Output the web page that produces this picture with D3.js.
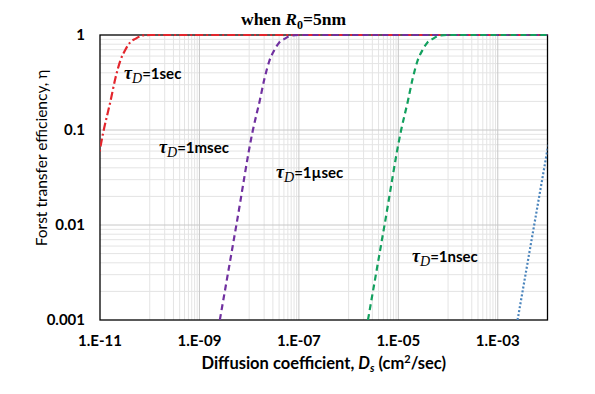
<!DOCTYPE html>
<html>
<head>
<meta charset="utf-8">
<script src="https://cdn.jsdelivr.net/npm/d3@7"></script>
<style>
  body { margin: 0; background: #fff; }
  svg { display: block; }
</style>
</head>
<body>
<script>
// chart values
var xTicks = [1e-11, 1e-9, 1e-7, 1e-5, 1e-3];
var xTickLabels = ['1.E-11', '1.E-09', '1.E-07', '1.E-05', '1.E-03'];
var yTicks = [0.001, 0.01, 0.1, 1];
var yTickLabels = ['0.001', '0.01', '0.1', '1'];

var labels1s = '1sec', labels1ms = '1msec', labels1us = '1\u00b5sec', labels1ns = '1nsec';

var dSec = [2.57e-12, 5.53e-12, 1.19e-11, 1.62e-11, 2.04e-11, 2.57e-11, 3.24e-11, 4.07e-11, 5.13e-11, 7.24e-11, 1.02e-10, 1e-2];
var etaSec = [0.001, 0.01, 0.1, 0.2, 0.35, 0.54, 0.70, 0.84, 0.91, 0.99, 1, 1];

var dMsec = [2.57e-9, 5.53e-9, 1.19e-8, 1.62e-8, 2.04e-8, 2.57e-8, 3.24e-8, 4.07e-8, 5.13e-8, 7.24e-8, 1.02e-7, 1e-2];
var etaMsec = [0.001, 0.01, 0.1, 0.2, 0.35, 0.54, 0.70, 0.84, 0.91, 0.99, 1, 1];

var dUsec = [2.45e-6, 5.28e-6, 1.14e-5, 1.55e-5, 1.95e-5, 2.45e-5, 3.09e-5, 3.89e-5, 4.9e-5, 6.9e-5, 9.7e-5, 1e-2];
var etaUsec = [0.001, 0.01, 0.1, 0.2, 0.35, 0.54, 0.70, 0.84, 0.91, 0.99, 1, 1];

var dNsec = [2.5e-3, 5.4e-3, 1.17e-2];
var etaNsec = [0.001, 0.01, 0.1];

var width = 595, height = 394;
var pLeft = 100, pRight = 547.5, pTop = 35, pBottom = 320;

var x = d3.scaleLog().domain([1e-11, 1e-2]).range([pLeft, pRight]);
var y = d3.scaleLog().domain([0.001, 1]).range([pBottom, pTop]);

var svg = d3.select('body').append('svg')
  .attr('width', width)
  .attr('height', height);

svg.append('rect').attr('width', width).attr('height', height).attr('fill', '#fff');

// grid: minor first, then majors
var xMinor = [];
d3.range(-11, -2).forEach(function(e) {
  if ((e + 11) % 2 === 1) {
    d3.range(1, 10).forEach(function(m) { xMinor.push(m * Math.pow(10, e)); });
  }
});
var yMinor = [];
d3.range(-3, 0).forEach(function(e) {
  d3.range(2, 10).forEach(function(m) { yMinor.push(m * Math.pow(10, e)); });
});

var grid = svg.append('g');
grid.selectAll('.xminor').data(xMinor).enter().append('line')
  .attr('x1', function(d) { return x(d); }).attr('x2', function(d) { return x(d); })
  .attr('y1', pTop).attr('y2', pBottom)
  .attr('stroke', '#e4e4e4').attr('stroke-width', 1);
grid.selectAll('.yminor').data(yMinor).enter().append('line')
  .attr('y1', function(d) { return y(d); }).attr('y2', function(d) { return y(d); })
  .attr('x1', pLeft).attr('x2', pRight)
  .attr('stroke', '#e4e4e4').attr('stroke-width', 1);
grid.selectAll('.xmajor').data(xTicks.slice(1)).enter().append('line')
  .attr('x1', function(d) { return x(d); }).attr('x2', function(d) { return x(d); })
  .attr('y1', pTop).attr('y2', pBottom)
  .attr('stroke', '#c8c8c8').attr('stroke-width', 1);
grid.selectAll('.ymajor').data(yTicks.slice(1, 3)).enter().append('line')
  .attr('y1', function(d) { return y(d); }).attr('y2', function(d) { return y(d); })
  .attr('x1', pLeft).attr('x2', pRight)
  .attr('stroke', '#c8c8c8').attr('stroke-width', 1);

// frame
svg.append('rect')
  .attr('x', pLeft).attr('y', pTop)
  .attr('width', pRight - pLeft).attr('height', pBottom - pTop)
  .attr('fill', 'none').attr('stroke', '#000').attr('stroke-width', 1.3);

// curves
svg.append('clipPath').attr('id', 'clip').append('rect')
  .attr('x', pLeft).attr('y', pTop - 3).attr('width', pRight - pLeft).attr('height', pBottom - pTop + 3);

var line = d3.line()
  .x(function(d) { return x(d[0]); })
  .y(function(d) { return y(d[1]); })
  .curve(d3.curveMonotoneX);

var series = [
  { d: dSec, eta: etaSec, color: '#e3262d', dash: '8,3,2,3' },
  { d: dMsec, eta: etaMsec, color: '#7030a0', dash: '6,4' },
  { d: dUsec, eta: etaUsec, color: '#12a05e', dash: '6,4' },
  { d: dNsec, eta: etaNsec, color: '#4a84bc', dash: '2,2' }
];

svg.append('g').attr('clip-path', 'url(#clip)')
  .selectAll('path').data(series).enter().append('path')
  .attr('d', function(s) { return line(d3.zip(s.d, s.eta)); })
  .attr('fill', 'none')
  .attr('stroke', function(s) { return s.color; })
  .attr('stroke-width', 2.2)
  .attr('stroke-dasharray', function(s) { return s.dash; });

// tick labels
var sans = 'Lato, "Open Sans", sans-serif';
svg.selectAll('.xt').data(xTicks).enter().append('text')
  .attr('x', function(d) { return x(d); })
  .attr('y', 346)
  .attr('text-anchor', 'middle')
  .style('font-family', sans).style('font-weight', 'bold').style('font-size', '15px')
  .text(function(d, i) { return xTickLabels[i]; });

svg.selectAll('.yt').data(yTicks).enter().append('text')
  .attr('x', 85)
  .attr('y', function(d) { return y(d) + 5; })
  .attr('text-anchor', 'end')
  .style('font-family', sans).style('font-weight', 'bold').style('font-size', '15px')
  .text(function(d, i) { return yTickLabels[i]; });

// axis titles
var xt = svg.append('text')
  .attr('x', (pLeft + pRight) / 2).attr('y', 369)
  .attr('text-anchor', 'middle')
  .style('font-family', sans).style('font-weight', 'bold').style('font-size', '16.5px');
xt.append('tspan').text('Diffusion coefficient, ');
xt.append('tspan').style('font-style', 'italic').text('D');
xt.append('tspan').attr('dy', 3).style('font-size', '11px').style('font-style', 'italic').text('s');
xt.append('tspan').attr('dy', -3).text(' (cm');
xt.append('tspan').attr('dy', -6).style('font-size', '11px').text('2');
xt.append('tspan').attr('dy', 6).text('/sec)');

svg.append('text')
  .attr('transform', 'translate(47,158) rotate(-90)')
  .attr('text-anchor', 'middle')
  .style('font-family', sans).style('font-size', '15.5px')
  .text('Forst transfer efficiency, \u03b7');

// title
var title = svg.append('text')
  .attr('x', 241).attr('y', 25)
  .style('font-family', '"Liberation Serif", serif').style('font-weight', 'bold').style('font-size', '17.5px');
title.append('tspan').text('when ');
title.append('tspan').style('font-style', 'italic').text('R');
title.append('tspan').attr('dy', 4).style('font-size', '12px').text('0');
title.append('tspan').attr('dy', -4).text('=5nm');

// curve labels
function tauLabel(px, py, txt) {
  var t = svg.append('text').attr('x', px).attr('y', py);
  t.append('tspan').style('font-family', '"Liberation Serif", serif').style('font-style', 'italic')
    .style('font-weight', 'bold').style('font-size', '18px').text('\u03c4');
  t.append('tspan').attr('dy', 4).style('font-family', '"Liberation Serif", serif').style('font-style', 'italic')
    .style('font-size', '14px').text('D');
  t.append('tspan').attr('dy', -4).style('font-family', sans).style('font-weight', 'bold')
    .style('font-size', '15px').text('=' + txt);
}
tauLabel(124, 79, labels1s);
tauLabel(159, 153, labels1ms);
tauLabel(276, 178, labels1us);
tauLabel(412, 262, labels1ns);
</script>
</body>
</html>
